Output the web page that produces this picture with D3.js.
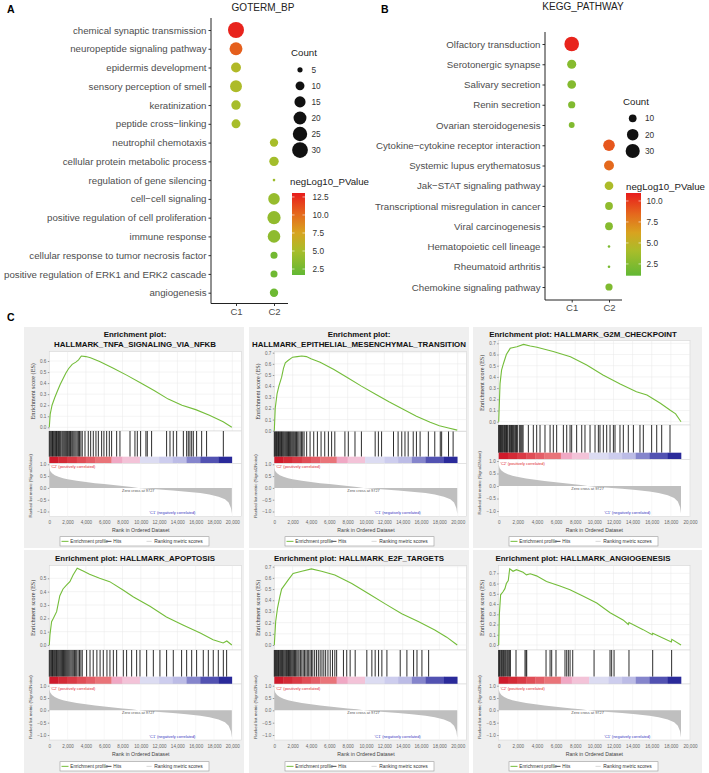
<!DOCTYPE html>
<html>
<head>
<meta charset="utf-8">
<script src="https://cdn.jsdelivr.net/npm/d3@7"></script>
<style>
  body { margin: 0; background: #fff; }
  svg { display: block; font-family: "Liberation Sans", Arial, sans-serif; }
</style>
</head>
<body>
<div id="chart"></div>
<script>
// ---------- panel A : GOTERM_BP ----------
const clusters = ["C1", "C2"];

const goTerms = ["chemical synaptic transmission", "neuropeptide signaling pathway", "epidermis development",
  "sensory perception of smell", "keratinization", "peptide cross\u2212linking", "neutrophil chemotaxis",
  "cellular protein metabolic process", "regulation of gene silencing", "cell\u2212cell signaling",
  "positive regulation of cell proliferation", "immune response", "cellular response to tumor necrosis factor",
  "positive regulation of ERK1 and ERK2 cascade", "angiogenesis"];
const goCluster = ["C1", "C1", "C1", "C1", "C1", "C1", "C2", "C2", "C2", "C2", "C2", "C2", "C2", "C2", "C2"];
const goCount = [31, 20, 12, 17, 11, 10, 9, 11, 4, 16, 21, 19, 7, 7, 9];
const goPval = [12.8, 10.5, 5.5, 5.3, 5.0, 5.0, 5.0, 4.8, 4.5, 4.2, 4.0, 3.8, 2.5, 2.3, 2.2];
const goSizeBreaks = [5, 10, 15, 20, 25, 30];
const goColorBreaks = [2.5, 5.0, 7.5, 10.0, 12.5];

// ---------- panel B : KEGG_PATHWAY ----------
const keggTerms = ["Olfactory transduction", "Serotonergic synapse", "Salivary secretion", "Renin secretion",
  "Ovarian steroidogenesis", "Cytokine\u2212cytokine receptor interaction", "Systemic lupus erythematosus",
  "Jak\u2212STAT signaling pathway", "Transcriptional misregulation in cancer", "Viral carcinogenesis",
  "Hematopoietic cell lineage", "Rheumatoid arthritis", "Chemokine signaling pathway"];
const keggCluster = ["C1", "C1", "C1", "C1", "C1", "C2", "C2", "C2", "C2", "C2", "C2", "C2", "C2"];
const keggCount = [32, 13, 12, 9, 7, 20, 15, 12, 10, 10, 5, 5, 9];
const keggPval = [10.7, 2.6, 2.5, 2.4, 2.4, 9.0, 8.4, 4.2, 3.0, 2.6, 2.2, 2.0, 2.3];
const keggSizeBreaks = [10, 20, 30];
const keggColorBreaks = [2.5, 5.0, 7.5, 10.0];

// ---------- panel C : GSEA ----------
const gseaNames = ["HALLMARK_TNFA_SIGNALING_VIA_NFKB", "HALLMARK_EPITHELIAL_MESENCHYMAL_TRANSITION",
  "HALLMARK_G2M_CHECKPOINT", "HALLMARK_APOPTOSIS", "HALLMARK_E2F_TARGETS", "HALLMARK_ANGIOGENESIS"];
const gseaListEnd = [19950, 19950, 19060, 19950, 19950, 19060];
const esTicksTop = [0.6, 0.7, 0.7, 0.5, 0.7, 0.7];

const esTnfa = [[0,0],[100,0.12],[300,0.2],[600,0.27],[900,0.33],[1200,0.39],[1500,0.44],[1800,0.49],[2100,0.53],
  [2500,0.57],[2900,0.59],[3200,0.61],[3500,0.645],[4000,0.64],[4500,0.63],[5500,0.595],[7000,0.535],[8500,0.47],
  [10000,0.40],[11500,0.33],[13000,0.255],[14500,0.2],[16000,0.16],[17500,0.11],[19000,0.05],[19950,0.0]];
const esEmt = [[0,0],[100,0.2],[300,0.33],[500,0.4],[800,0.48],[1000,0.56],[1200,0.61],[1500,0.63],[2000,0.66],
  [2500,0.665],[3000,0.67],[3500,0.665],[4000,0.645],[5000,0.615],[6500,0.55],[8000,0.475],[9500,0.4],[11000,0.33],
  [12500,0.26],[14000,0.195],[15500,0.13],[17000,0.075],[18000,0.045],[19000,0.025],[19950,0.005]];
const esG2m = [[0,0],[140,0.34],[300,0.46],[500,0.52],[800,0.6],[1200,0.655],[1900,0.67],[2600,0.69],[3300,0.676],
  [4000,0.664],[5700,0.626],[7500,0.58],[9200,0.506],[10900,0.417],[12700,0.337],[14400,0.268],[15500,0.238],
  [16900,0.164],[17900,0.104],[18500,0.07],[19060,0.0]];
const esApoptosis = [[0,0],[70,0.075],[250,0.175],[450,0.2],[800,0.25],[1150,0.37],[1500,0.42],[1900,0.45],
  [2250,0.475],[2600,0.525],[3050,0.575],[3700,0.555],[4400,0.53],[5500,0.5],[6600,0.475],[8100,0.41],[9200,0.36],
  [11000,0.29],[12800,0.21],[14600,0.15],[16500,0.09],[17900,0.04],[19000,0.015],[19400,0.03],[19950,0.0]];
const esE2f = [[0,0],[150,0.21],[350,0.33],[600,0.43],[800,0.5],[1150,0.54],[1500,0.58],[2050,0.64],[3000,0.66],
  [4050,0.68],[5150,0.66],[6600,0.625],[8450,0.55],[10250,0.46],[12050,0.37],[13900,0.28],[15700,0.21],
  [17500,0.134],[18800,0.07],[19950,0.0]];
const esAngio = [[0,0],[70,0.3],[200,0.49],[450,0.52],[650,0.55],[800,0.6],[1000,0.63],[1150,0.745],[1500,0.72],
  [1850,0.735],[2550,0.71],[2900,0.685],[3300,0.695],[3950,0.675],[5000,0.62],[6400,0.575],[7450,0.54],
  [8850,0.475],[10250,0.41],[11650,0.315],[13000,0.245],[13550,0.2],[13620,0.22],[15100,0.15],[16050,0.1],
  [16100,0.115],[18050,0.03],[18100,0.055],[19060,0.0]];

const hitsTnfa = [0,90,180,270,350,440,530,620,700,790,880,1000,1100,1190,1280,1400,1500,1600,1700,1800,1900,2000,
  2120,2220,2320,2450,2560,2680,2800,2920,3050,3180,3300,3450,3600,3900,4260,4520,4810,5100,5360,5720,5970,6270,
  6560,6810,7360,7720,8820,9360,9620,9980,10560,10710,11180,12820,13190,13550,13920,14650,15010,15190,15370,15560,
  15740,16100,16650,17190,19020];
const hitsEmt = [0,70,150,230,300,380,460,540,620,700,790,870,960,1050,1150,1250,1350,1450,1550,1650,1750,1850,1960,
  2070,2180,2300,2420,2550,2680,2820,2960,3100,3250,3530,3900,4300,4700,5100,5500,5900,6250,6600,7700,8070,8800,
  9500,11000,11350,11700,13000,13500,13900,14250,14600,15150,15500,15900,16800,17500,18100,18250,19000,19500];
const hitsG2m = [0,60,130,200,270,340,420,480,600,680,750,820,900,980,1120,1200,1280,1350,1430,1520,1600,1700,1780,
  1870,1950,2150,2250,2350,2450,2550,3100,3620,3970,4320,4840,5370,5710,6060,6760,7110,7460,7630,8150,8680,9020,
  9550,10070,10420,10590,10940,11290,11640,11990,12160,12680,13030,13550,14080,14770,15120,15990,16520,17040,17910];
const hitsApoptosis = [0,90,180,260,350,430,520,600,700,780,870,960,1050,1150,1250,1350,1450,1550,1650,1750,1850,
  1950,2050,2150,2260,2380,2500,2620,2750,2880,3000,3150,3300,3450,3600,4080,4450,4800,5200,5550,5900,6300,6630,
  7000,7360,8090,8450,9000,9545,9910,10640,11370,12090,12820,13550,14460,15010,15560,16100,16830,17380,17920,18470,
  19020,19380];
const hitsE2f = [0,70,150,220,300,380,450,530,620,700,800,880,960,1050,1150,1250,1340,1450,1550,1650,1750,1850,1960,
  2080,2200,2320,2450,2580,2700,2850,3000,3150,3300,3450,3600,3750,3900,4050,4200,4400,4600,4800,5000,5200,5400,
  5600,5850,6100,6350,6600,6800,7540,7900,8270,8820,10090,10640,11000,11370,11730,12280,13730,14460,15190,15560,
  16100,16830];
const hitsAngio = [0,70,140,240,310,420,490,590,700,840,940,1050,1150,1220,1810,2750,2860,2930,4950,5370,5540,5990,
  6930,7110,7280,7460,7740,9970,11640,11810,12060,13620,16100,18080];

const gseaEs = [esTnfa, esEmt, esG2m, esApoptosis, esE2f, esAngio];
const gseaHits = [hitsTnfa, hitsEmt, hitsG2m, hitsApoptosis, hitsE2f, hitsAngio];

// ranked list metric (same list for every set)
const metricRank = [0,100,300,600,1000,1500,2000,3000,4000,5000,6000,7000,8000,9000,9727,10500,12000,13500,15000,
  16500,17500,18500,19200,19600,19850,19950];
const metricValue = [0.85,0.72,0.62,0.54,0.47,0.41,0.37,0.30,0.25,0.20,0.16,0.12,0.08,0.04,0.0,-0.03,-0.07,-0.11,
  -0.16,-0.22,-0.28,-0.37,-0.48,-0.62,-0.85,-1.1];
const zeroCross = 9727;

// heat bar under the hits
const barStart = [0,1000,2000,3000,4000,5000,6800,8000,9900,12000,13500,15000,16500,18500];
const barEnd = [1000,2000,3000,4000,5000,6800,8000,9900,12000,13500,15000,16500,18500,19950];
const barColor = ["#cf1a2b","#d42a36","#da3a45","#e04d56","#e45e67","#e97479","#f0a8c4","#f3c3d8","#dcdcf2",
  "#cdcdee","#bcbce6","#8585cc","#5252b2","#2a2a9a"];

// ---------------------------------------------------------------
const W = 709, H = 773;
const svg = d3.select("#chart").append("svg").attr("width", W).attr("height", H);
const defs = svg.append("defs");

// green -> yellow -> red gradient, as seen on the colour bars
const gradPos = [0, 0.3, 0.52, 0.75, 1];
const gradCol = ["#62b834", "#a9bd2a", "#d8a31f", "#e5671d", "#e81c1c"];

function dotPlot(o) {
  let g = svg.append("g");
  let y = d3.scalePoint().domain(o.terms).range([o.y0, o.y1]);
  let x = d3.scalePoint().domain(clusters).range([o.xc1, o.xc2]);
  let cMin = d3.min(o.count), cMax = d3.max(o.count);
  let rLin = d3.scaleLinear().domain([0, 1]).range(o.rRange);
  let r = c => rLin(Math.sqrt(Math.max(0, (c - cMin) / (cMax - cMin))));
  let lo = o.pDomain[0], hi = o.pDomain[1];
  let col = d3.scaleLinear().domain(gradPos.map(t => lo + t * (hi - lo))).range(gradCol);

  g.append("text").attr("x", o.letterX).attr("y", 13).attr("font-weight", "bold")
    .attr("font-size", 10.5).text(o.letter);
  g.append("text").attr("x", o.titleX).attr("y", o.titleY).attr("text-anchor", "middle")
    .attr("font-size", 10).attr("fill", "#222").text(o.title);

  // axes
  let yAxis = d3.axisLeft(y).tickSize(2.5).tickPadding(2).tickSizeOuter(0);
  let ya = g.append("g").attr("transform", "translate(" + o.axisX + ",0)").call(yAxis);
  ya.select(".domain").remove();
  ya.selectAll("text").attr("font-size", 9.7).attr("fill", "#4d4d4d")
    .attr("font-family", "'Liberation Sans', Arial, sans-serif");
  ya.selectAll("line").attr("stroke", "#333");

  let xAxis = d3.axisBottom(x).tickSize(2.5).tickPadding(2).tickSizeOuter(0);
  let xa = g.append("g").attr("transform", "translate(0," + o.axisBottom + ")").call(xAxis);
  xa.select(".domain").remove();
  xa.selectAll("text").attr("font-size", 9.5).attr("fill", "#4d4d4d")
    .attr("font-family", "'Liberation Sans', Arial, sans-serif");
  xa.selectAll("line").attr("stroke", "#333");

  g.append("path")
    .attr("d", "M" + o.axisX + "," + o.axisTop + "V" + o.axisBottom + "H" + o.axisRight)
    .attr("fill", "none").attr("stroke", "#222").attr("stroke-width", 1);

  // dots
  g.selectAll(".dot").data(o.terms).enter().append("circle")
    .attr("class", "dot")
    .attr("cx", (d, i) => x(o.cluster[i]))
    .attr("cy", d => y(d))
    .attr("r", (d, i) => r(o.count[i]))
    .attr("fill", (d, i) => col(o.pval[i]));

  // size legend
  g.append("text").attr("x", o.countX).attr("y", o.countY).attr("font-size", 9.7).attr("fill", "#222").text("Count");
  o.sizeBreaks.forEach((b, i) => {
    let cy = o.sizeY0 + i * o.sizeStep;
    g.append("circle").attr("cx", o.sizeX).attr("cy", cy).attr("r", r(b)).attr("fill", "#111");
    g.append("text").attr("x", o.sizeLabelX).attr("y", cy + 3).attr("font-size", 8.3).attr("fill", "#333").text(b);
  });

  // colour bar
  let grad = defs.append("linearGradient").attr("id", "grad-" + o.id)
    .attr("x1", 0).attr("x2", 0).attr("y1", 1).attr("y2", 0);
  gradPos.forEach((t, i) => {
    grad.append("stop").attr("offset", t).attr("stop-color", gradCol[i]);
  });
  g.append("text").attr("x", o.cbTitleX).attr("y", o.cbTitleY).attr("font-size", 9.7).attr("fill", "#222")
    .text("negLog10_PValue");
  g.append("rect").attr("x", o.cbX).attr("y", o.cbTop).attr("width", o.cbW).attr("height", o.cbBottom - o.cbTop)
    .attr("fill", "url(#grad-" + o.id + ")");
  let cbY = d3.scaleLinear().domain(o.pDomain).range([o.cbBottom, o.cbTop]);
  o.colorBreaks.forEach(b => {
    g.append("line").attr("x1", o.cbX).attr("x2", o.cbX + 2.5).attr("y1", cbY(b)).attr("y2", cbY(b))
      .attr("stroke", "#fff").attr("stroke-width", 0.6);
    g.append("line").attr("x1", o.cbX + o.cbW - 2.5).attr("x2", o.cbX + o.cbW).attr("y1", cbY(b)).attr("y2", cbY(b))
      .attr("stroke", "#fff").attr("stroke-width", 0.6);
    g.append("text").attr("x", o.cbLabelX).attr("y", cbY(b) + 3).attr("font-size", 8.3).attr("fill", "#333")
      .text(d3.format(".1f")(b));
  });
}

dotPlot({ id: "go", terms: goTerms, cluster: goCluster, count: goCount, pval: goPval,
  sizeBreaks: goSizeBreaks, colorBreaks: goColorBreaks, letter: "A", letterX: 7, title: "GOTERM_BP",
  titleX: 263, titleY: 10.5, axisX: 211, axisTop: 18, axisBottom: 303.5, axisRight: 288, y0: 30, y1: 292.7,
  xc1: 236, xc2: 274, rRange: [1.3, 8], pDomain: [1.67, 13.05],
  countX: 291, countY: 56, sizeX: 300, sizeY0: 69.8, sizeStep: 16.05, sizeLabelX: 311.5,
  cbTitleX: 290, cbTitleY: 184.5, cbX: 292, cbW: 13, cbTop: 193, cbBottom: 275, cbLabelX: 312.5 });

dotPlot({ id: "kegg", terms: keggTerms, cluster: keggCluster, count: keggCount, pval: keggPval,
  sizeBreaks: keggSizeBreaks, colorBreaks: keggColorBreaks, letter: "B", letterX: 381, title: "KEGG_PATHWAY",
  titleX: 583, titleY: 9.5, axisX: 545, axisTop: 32, axisBottom: 300, axisRight: 622, y0: 44, y1: 287,
  xc1: 571.7, xc2: 609, rRange: [1.3, 7.3], pDomain: [1.1, 10.95],
  countX: 623, countY: 104.5, sizeX: 632.7, sizeY0: 118.3, sizeStep: 16.35, sizeLabelX: 645,
  cbTitleX: 626, cbTitleY: 189.5, cbX: 626, cbW: 15, cbTop: 193, cbBottom: 275.7, cbLabelX: 646.5 });

// ---------- GSEA panels ----------
svg.append("text").attr("x", 7).attr("y", 321).attr("font-weight", "bold").attr("font-size", 10.5).text("C");

const row1 = { by: 327, bh: 221, hitsBot: 456.7, barBot: 463.3, metBot: 516.7, tickY: 523.2, axTitleY: 531.5, legY: 536.7 };
const row2 = { by: 550, bh: 223, titleY: [561], esTop: 565.7, esBot: 650, esZero: 645, hitsBot: 676.7, barBot: 684,
  m1: 685.7, mNeg1: 735, metBot: 740, tickY: 748, axTitleY: 756.3, legY: 761.7 };
const colL = { bx: 24, bw: 220, x0: 49.3, x20k: 232.3, right: 241.5, titleX: 135, legX: 60 };
const colM = { bx: 249, bw: 220, x0: 274.3, x20k: 457.7, right: 466.5, titleX: 359, legX: 285 };
const colR = { bx: 473, bw: 229, x0: 498.7, x20k: 690, right: 690, titleX: 583, legX: 509 };

const gseaLayout = [
  Object.assign({}, row1, colL, { titleY: [336.5, 347.3], esTop: 351.5, esBot: 431, esZero: 427.3, esRefPx: 361, m1: 464.3, mNeg1: 511.5 }),
  Object.assign({}, row1, colM, { titleY: [336.5, 347.3], esTop: 351.5, esBot: 431.5, esZero: 430.7, esRefPx: 352.7, m1: 464.3, mNeg1: 511.5 }),
  Object.assign({}, row1, colR, { titleY: [336.5], esTop: 340.7, esBot: 425, esZero: 421.7, esRefPx: 343.3,
    hitsBot: 452.7, barBot: 459.3, m1: 461, mNeg1: 511 }),
  Object.assign({}, row2, colL, { esRefPx: 578.3 }),
  Object.assign({}, row2, colM, { esRefPx: 566.7 }),
  Object.assign({}, row2, colR, { esRefPx: 573.3 })
];

function gseaPlot(k) {
  let L = gseaLayout[k];
  let g = svg.append("g");
  let tickFont = 4.6;

  g.append("rect").attr("x", L.bx).attr("y", L.by).attr("width", L.bw).attr("height", L.bh).attr("fill", "#efefef");

  // title
  let lines = L.titleY.length === 2 ? ["Enrichment plot:", gseaNames[k]] : ["Enrichment plot: " + gseaNames[k]];
  lines.forEach((t, i) => {
    g.append("text").attr("x", L.titleX).attr("y", L.titleY[i]).attr("text-anchor", "middle")
      .attr("font-weight", "bold").attr("font-size", 7.9).attr("fill", "#111").text(t);
  });

  let x = d3.scaleLinear().domain([0, 20000]).range([L.x0, L.x20k]);
  let xList = d3.scaleLinear().domain([0, 19950]).range([L.x0, x(gseaListEnd[k])]);
  let yEs = d3.scaleLinear().domain([0, esTicksTop[k]]).range([L.esZero, L.esRefPx]);
  let yM = d3.scaleLinear().domain([-1, 1]).range([L.mNeg1, L.m1]);
  let xTicks = d3.range(0, 20001, 2000);
  let esTicks = d3.range(0, esTicksTop[k] + 0.001, 0.1);

  // ES plot
  g.append("rect").attr("x", L.x0).attr("y", L.esTop).attr("width", L.right - L.x0).attr("height", L.esBot - L.esTop)
    .attr("fill", "#fff").attr("stroke", "#d0d0d0").attr("stroke-width", 0.5);
  xTicks.forEach(t => {
    g.append("line").attr("x1", x(t)).attr("x2", x(t)).attr("y1", L.esTop).attr("y2", L.esBot)
      .attr("stroke", "#e9e9e9").attr("stroke-width", 0.5);
  });
  esTicks.forEach(t => {
    g.append("line").attr("x1", L.x0).attr("x2", L.right).attr("y1", yEs(t)).attr("y2", yEs(t))
      .attr("stroke", "#e9e9e9").attr("stroke-width", 0.5);
  });
  let esAxis = d3.axisLeft(yEs).tickValues(esTicks).tickFormat(d3.format(".1f")).tickSize(1.5).tickPadding(1.5);
  let ea = g.append("g").attr("transform", "translate(" + L.x0 + ",0)").call(esAxis);
  ea.select(".domain").remove();
  ea.selectAll("line").attr("stroke", "#999");
  ea.selectAll("text").attr("font-size", tickFont).attr("fill", "#666");

  g.append("path").datum(gseaEs[k])
    .attr("d", d3.line().x(d => x(d[0])).y(d => yEs(d[1])))
    .attr("fill", "none").attr("stroke", "#74bd3a").attr("stroke-width", 1.1);

  g.append("text")
    .attr("transform", "translate(" + (L.bx + 10.5) + "," + ((L.esTop + L.esBot) / 2) + ") rotate(-90)")
    .attr("text-anchor", "middle").attr("font-family", "'Liberation Serif', 'Times New Roman', serif")
    .attr("font-size", 6.2).attr("fill", "#333").text("Enrichment score (ES)");

  // hits + heat bar
  g.append("rect").attr("x", L.x0).attr("y", L.esBot).attr("width", L.right - L.x0).attr("height", L.barBot - L.esBot)
    .attr("fill", "#fff").attr("stroke", "#d0d0d0").attr("stroke-width", 0.5);
  g.selectAll(".hit").data(gseaHits[k]).enter().append("line")
    .attr("x1", d => x(d)).attr("x2", d => x(d))
    .attr("y1", L.esBot).attr("y2", L.hitsBot)
    .attr("stroke", "#151515").attr("stroke-width", 0.9);
  g.selectAll(".seg").data(barColor).enter().append("rect")
    .attr("x", (d, i) => xList(barStart[i]))
    .attr("width", (d, i) => xList(barEnd[i]) - xList(barStart[i]) + 0.3)
    .attr("y", L.hitsBot).attr("height", L.barBot - L.hitsBot)
    .attr("fill", d => d);

  // ranked list metric
  g.append("rect").attr("x", L.x0).attr("y", L.barBot).attr("width", L.right - L.x0).attr("height", L.metBot - L.barBot)
    .attr("fill", "#fff").attr("stroke", "#d0d0d0").attr("stroke-width", 0.5);
  xTicks.forEach(t => {
    g.append("line").attr("x1", x(t)).attr("x2", x(t)).attr("y1", L.barBot).attr("y2", L.metBot)
      .attr("stroke", "#f0f0f0").attr("stroke-width", 0.5);
  });
  let metric = metricRank.map((r, i) => [r, metricValue[i]]);
  g.append("path").datum(metric)
    .attr("d", d3.area().x(d => xList(d[0])).y0(yM(0)).y1(d => yM(d[1])))
    .attr("fill", "#bfbfbf");
  let mAxis = d3.axisLeft(yM).tickValues([1, 0.5, 0, -0.5, -1]).tickFormat(d3.format(".1f")).tickSize(1.5).tickPadding(1.5);
  let ma = g.append("g").attr("transform", "translate(" + L.x0 + ",0)").call(mAxis);
  ma.select(".domain").remove();
  ma.selectAll("line").attr("stroke", "#999");
  ma.selectAll("text").attr("font-size", tickFont).attr("fill", "#666");

  g.append("text").attr("x", L.x0 + 1.5).attr("y", L.m1 + 4).attr("font-size", 3.9).attr("fill", "#e0262b")
    .text("'C2' (positively correlated)");
  g.append("text").attr("x", xList(zeroCross)).attr("y", yM(0) + 4).attr("text-anchor", "middle")
    .attr("font-size", 3.9).attr("fill", "#555").text("Zero cross at " + zeroCross);
  g.append("text").attr("x", x(13450)).attr("y", L.mNeg1 + 2.8).attr("text-anchor", "middle")
    .attr("font-size", 3.9).attr("fill", "#3535c0").text("'C1' (negatively correlated)");

  g.append("text")
    .attr("transform", "translate(" + (L.bx + 7.5) + "," + ((L.esBot + L.metBot) / 2 + 12) + ") rotate(-90)")
    .attr("text-anchor", "middle").attr("font-size", 4.3).attr("fill", "#444")
    .text("Ranked list metric (Signal2Noise)");

  // x axis
  let xAxis = d3.axisBottom(x).tickValues(xTicks).tickFormat(d3.format(",")).tickSize(0).tickPadding(4.5);
  let xa = g.append("g").attr("transform", "translate(0," + L.metBot + ")").call(xAxis);
  xa.select(".domain").remove();
  xa.selectAll("text").attr("font-size", tickFont).attr("fill", "#666");
  g.append("text").attr("x", (L.x0 + L.x20k) / 2).attr("y", L.axTitleY).attr("text-anchor", "middle")
    .attr("font-size", 5.2).attr("fill", "#444").text("Rank in Ordered Dataset");

  // legend
  let lx = L.legX, ly = L.legY, lh = 9.3, my = L.legY + lh / 2;
  g.append("rect").attr("x", lx).attr("y", ly).attr("width", 149).attr("height", lh)
    .attr("fill", "#fff").attr("stroke", "#9a9a9a").attr("stroke-width", 0.6);
  g.append("line").attr("x1", lx + 1.5).attr("x2", lx + 8.5).attr("y1", my).attr("y2", my)
    .attr("stroke", "#74bd3a").attr("stroke-width", 1);
  g.append("text").attr("x", lx + 10.3).attr("y", my + 1.7).attr("font-size", 4.7).attr("fill", "#333").text("Enrichment profile");
  g.append("line").attr("x1", lx + 47.5).attr("x2", lx + 51.5).attr("y1", my).attr("y2", my)
    .attr("stroke", "#222").attr("stroke-width", 0.8);
  g.append("text").attr("x", lx + 53.3).attr("y", my + 1.7).attr("font-size", 4.7).attr("fill", "#333").text("Hits");
  g.append("line").attr("x1", lx + 86.5).attr("x2", lx + 91.7).attr("y1", my).attr("y2", my)
    .attr("stroke", "#cfcfcf").attr("stroke-width", 0.8);
  g.append("text").attr("x", lx + 94.3).attr("y", my + 1.7).attr("font-size", 4.9).attr("fill", "#333").text("Ranking metric scores");
}

gseaNames.forEach((n, k) => gseaPlot(k));
</script>
</body>
</html>
